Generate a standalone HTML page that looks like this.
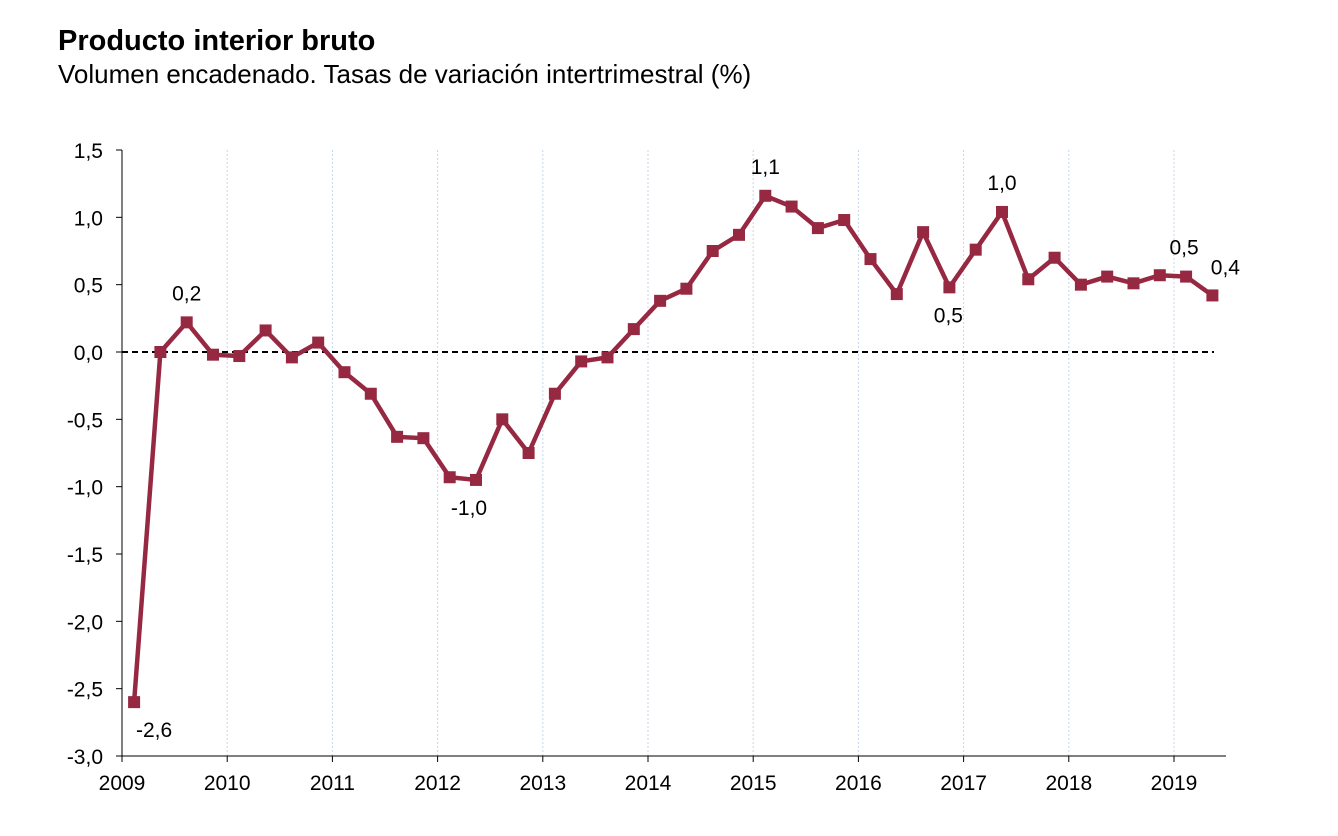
<!DOCTYPE html>
<html><head><meta charset="utf-8"><style>
body{margin:0;background:#fff;font-family:"Liberation Sans",Arial,sans-serif;}
#wrap{position:relative;width:1338px;height:836px;}
.t{position:absolute;left:58px;top:25px;font-size:29px;font-weight:bold;color:#000}
.s{position:absolute;left:58px;top:59px;font-size:26px;color:#000}
</style></head><body>
<div id="wrap">
<div class="t">Producto interior bruto</div>
<div class="s">Volumen encadenado. Tasas de variación intertrimestral (%)</div>
<svg id="c" width="1338" height="836" style="position:absolute;left:0;top:0"></svg>
</div>
<script>
const years=[2009,2010,2011,2012,2013,2014,2015,2016,2017,2018,2019];
const yTicks=[1.5,1.0,0.5,0.0,-0.5,-1.0,-1.5,-2.0,-2.5,-3.0];
const values=[-2.6,0.0,0.22,-0.02,-0.03,0.16,-0.04,0.07,-0.15,-0.31,-0.63,-0.64,-0.93,-0.95,-0.50,-0.75,-0.31,-0.07,-0.04,0.17,0.38,0.47,0.75,0.87,1.16,1.08,0.92,0.98,0.69,0.43,0.89,0.48,0.76,1.04,0.54,0.70,0.50,0.56,0.51,0.57,0.56,0.42];
const annIdx=[0,2,13,24,31,33,40,41];
const annText=["-2,6","0,2","-1,0","1,1","0,5","1,0","0,5","0,4"];
const annPos=["below","above","below","above","below","above","above","aboveright"];
const svg=document.getElementById('c');const NS='http://www.w3.org/2000/svg';
const x0=122,yw=105.2,yTop=150,yBot=756;
const X=t=>x0+t*yw;
const Y=v=>yTop+(1.5-v)*(yBot-yTop)/4.5;
const qx=i=>X(i/4+0.115);
function el(tag,a,name){const e=document.createElementNS(NS,tag);for(const k in a)e.setAttribute(k,a[k]);


svg.appendChild(e);return e;}
const fmt=v=>v.toFixed(1).replace('.',',');
years.forEach((yr,i)=>{
 if(i>0)el('line',{x1:X(i),x2:X(i),y1:yTop,y2:yBot,stroke:'#c5d6ea','stroke-width':1,'stroke-dasharray':'2,2'},'year-gridline');
 el('line',{x1:X(i),x2:X(i),y1:yBot,y2:yBot+6,stroke:'#000'},'x-tick');
 const t=el('text',{x:X(i),y:yBot+34,'text-anchor':'middle','font-size':21},'x-tick-label');t.textContent=yr;
});
yTicks.forEach(v=>{
 el('line',{x1:x0-6,x2:x0,y1:Y(v),y2:Y(v),stroke:'#000'},'y-tick');
 const t=el('text',{x:x0-19,y:Y(v)+8,'text-anchor':'end','font-size':21},'y-tick-label');t.textContent=fmt(v);
});
el('line',{x1:x0,x2:x0,y1:yTop,y2:yBot,stroke:'#000'},'y-axis');
el('line',{x1:x0,x2:1226,y1:yBot,y2:yBot,stroke:'#000'},'x-axis');
el('line',{x1:x0,x2:1214,y1:Y(0),y2:Y(0),stroke:'#000','stroke-width':2,'stroke-dasharray':'6,4'},'zero-line');
el('polyline',{points:values.map((v,i)=>qx(i)+','+Y(v)).join(' '),fill:'none',stroke:'#962841','stroke-width':4.5,'stroke-linejoin':'round'},'gdp-line');
values.forEach((v,i)=>el('rect',{x:qx(i)-6,y:Y(v)-6,width:12,height:12,fill:'#962841'},'gdp-point'));
annIdx.forEach((i,k)=>{
 let x=qx(i),y=Y(values[i]);const p=annPos[k];
 let ty=p==='below'?y+35:y-22,tx=x;
 if(p==='aboveright'){tx=x+13;ty=y-21;}
 if(k===0)tx=x+20;
 if(k===2)tx=x-7;
 if(k===4)tx=x-1;
 if(k===6)tx=x-2;
 const t=el('text',{x:tx,y:ty,'text-anchor':'middle','font-size':21},'data-label');t.textContent=annText[k];
});
</script></body></html>
